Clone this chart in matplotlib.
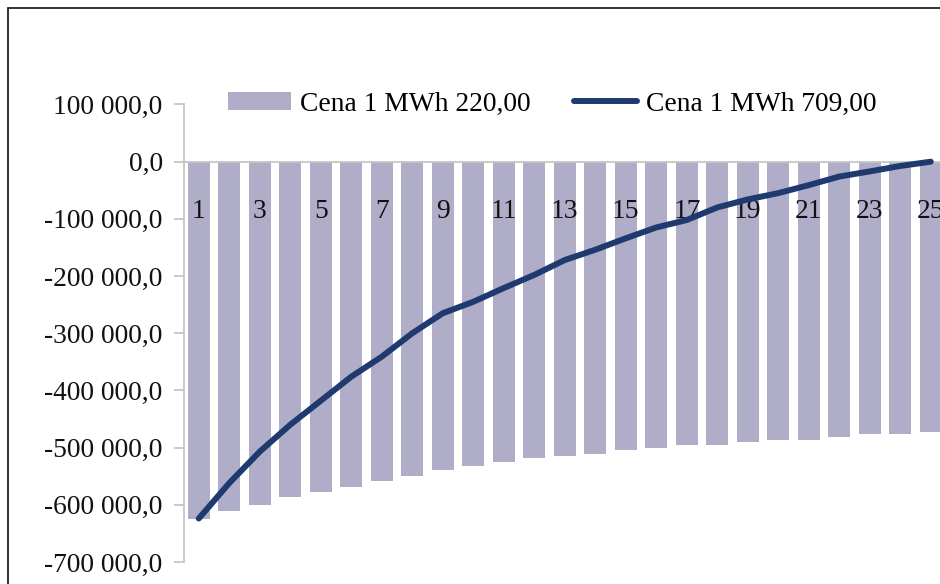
import matplotlib.pyplot as plt
from matplotlib.patches import Rectangle
from matplotlib.ticker import FuncFormatter

plt.rcParams['font.family'] = ['Liberation Serif', 'DejaVu Serif']
plt.rcParams['axes.unicode_minus'] = False

years = list(range(1, 26))
cena_220 = [-624000, -610000, -601000, -586000, -577000, -568000, -558000, -549000,
            -538500, -533000, -524500, -519000, -515500, -510500, -505000, -500000,
            -495000, -495000, -491000, -486000, -486000, -481000, -477000, -477000,
            -472000]
cena_709 = [-624000, -562000, -507000, -460000, -418000, -376000, -341000, -300000,
            -265000, -245000, -221000, -198000, -172000, -154000, -134000, -115000,
            -102000, -80000, -66000, -55000, -41000, -26000, -17000, -7500, 0]
tick_labels = [str(i) for i in years[::2]]

fs = 19.8
grey = '#c6c6c6'

fig = plt.figure(figsize=(9.4, 5.84), dpi=100)
ax = fig.add_axes([183.5 / 940, 22 / 584, (946 - 183.5) / 940, (562 - 104.5) / 584])
fig.patches.append(Rectangle((8 / 940, -0.1), 1.2, 1 - 8 / 584 + 0.1, transform=fig.transFigure,
                             fill=False, edgecolor='#222222', linewidth=1.3, clip_on=False))
ax.set_axisbelow(False)

bars = ax.bar(years, cena_220, width=0.72, color='#b0adc9', label='Cena 1 MWh 220,00', zorder=2)
line, = ax.plot(years, cena_709, color='#1f3a6e', linewidth=4.3, solid_capstyle='round',
                label='Cena 1 MWh 709,00', zorder=3)

ax.set_xlim(0.5, 25.5)
ax.set_ylim(-700000, 100000)
ax.set_yticks(range(-700000, 100001, 100000))
ax.yaxis.set_major_formatter(FuncFormatter(
    lambda v, p: '{:,.1f}'.format(v).replace(',', ' ').replace('.', ',')))

ax.set_xticks(years[::2])
ax.set_xticklabels(tick_labels)

for s in ['top', 'right']:
    ax.spines[s].set_visible(False)
ax.spines['bottom'].set_position(('data', 0))
ax.spines['bottom'].set_color(grey)
ax.spines['left'].set_color(grey)
ax.spines['left'].set_linewidth(1.3)
ax.spines['bottom'].set_linewidth(1.3)

ax.tick_params(axis='y', length=7, width=1.3, color=grey, pad=8, labelsize=fs, labelcolor='#111111')
ax.tick_params(axis='x', length=0, pad=27, labelsize=fs, labelcolor='#111111')

ax.legend([bars, line], ['Cena 1 MWh 220,00', 'Cena 1 MWh 709,00'],
          loc='center left', bbox_to_anchor=(228 / 940, 1 - 104 / 584), bbox_transform=fig.transFigure,
          ncol=2, frameon=False, fontsize=fs, handlelength=2.3, handleheight=0.65,
          handletextpad=0.3, columnspacing=1.6, borderaxespad=0, borderpad=0)

fig.savefig('out.png', dpi=100)
